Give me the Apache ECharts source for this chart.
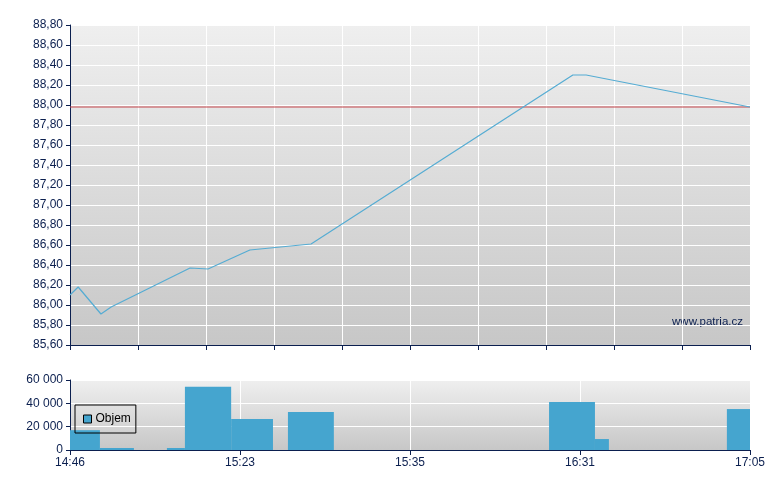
<!DOCTYPE html>
<html>
<head>
<meta charset="utf-8">
<script src="https://cdn.jsdelivr.net/npm/echarts@6/dist/echarts.min.js"></script>
<style>
  html, body { margin: 0; padding: 0; background: #fff; }
  #chart { width: 780px; height: 490px; }
</style>
</head>
<body>
<div id="chart"></div>
<script>
// osa x: pozice 0..20 (obchodni usek, ne linearni cas)
const timeLabels = ['14:46', '15:23', '15:35', '16:31', '17:05'];

// cena
const priceX = [0, 0.24, 0.91, 1.21, 3.53, 4.06, 5.29, 7.09, 14.79, 15.18, 20];
const priceY = [86.10, 86.18, 85.91, 85.98, 86.37, 86.36, 86.55, 86.61, 88.30, 88.30, 87.98];
const prevClose = 87.98;

// objem
const volStart = [0, 0.88, 2.85, 3.38, 4.74, 6.41, 14.09, 15.44, 19.32];
const volEnd = [0.88, 1.88, 3.38, 4.74, 5.97, 7.76, 15.44, 15.85, 20];
const volume = [17000, 1700, 1700, 54300, 26600, 32600, 41100, 9400, 35100];

const navy = '#0b1f4f';
const lineColor = '#55acd3';
const barColor = '#45a5cf';
const closeColor = '#c4454a';
const font = 'Arial, "Liberation Sans", sans-serif';

const bg = {
  type: 'linear', x: 0, y: 0, x2: 0, y2: 1,
  colorStops: [{ offset: 0, color: '#efefef' }, { offset: 1, color: '#c7c7c7' }],
};

const chart = echarts.init(document.getElementById('chart'));

const option = {
  animation: false,
  textStyle: { fontFamily: font },
  grid: [
    { left: 70, right: 30, top: 25, height: 320, show: true, backgroundColor: bg, borderWidth: 0 },
    { left: 70, right: 30, top: 380, height: 70, show: true, backgroundColor: bg, borderWidth: 0 },
  ],
  legend: {
    data: ['Objem'],
    left: 75,
    top: 405,
    orient: 'vertical',
    padding: [8, 5, 8, 8],
    borderColor: '#000',
    borderWidth: 1,
    icon: 'rect',
    itemWidth: 8,
    itemHeight: 8,
    itemGap: 0,
    itemStyle: { borderColor: '#000', borderWidth: 1 },
    textStyle: { color: '#000', fontSize: 12, fontFamily: font, padding: [0, 0, 0, -1] },
  },
  xAxis: [
    {
      type: 'value', gridIndex: 0, min: 0, max: 20, interval: 2,
      axisLine: { lineStyle: { color: navy, width: 1 } },
      axisTick: { show: true, length: 5, lineStyle: { color: navy } },
      axisLabel: { show: false },
      splitLine: { show: true, lineStyle: { color: '#ffffff', width: 1 } },
    },
    {
      type: 'value', gridIndex: 1, min: 0, max: 20, interval: 5,
      axisLine: { lineStyle: { color: navy, width: 1 } },
      axisTick: { show: true, length: 5, lineStyle: { color: navy } },
      axisLabel: {
        color: navy, fontSize: 12, margin: 7,
        formatter: (v) => timeLabels[Math.round(v / 5)],
      },
      splitLine: { show: true, lineStyle: { color: '#ffffff', width: 1 } },
    },
  ],
  yAxis: [
    {
      type: 'value', gridIndex: 0, min: 85.6, max: 88.8, interval: 0.2,
      axisLine: { show: true, lineStyle: { color: navy, width: 1 } },
      axisTick: { show: true, length: 4, lineStyle: { color: navy } },
      axisLabel: {
        color: navy, fontSize: 12, margin: 7,
        formatter: (v) => v.toFixed(2).replace('.', ','),
      },
      splitLine: { show: true, lineStyle: { color: '#ffffff', width: 1 } },
    },
    {
      type: 'value', gridIndex: 1, min: 0, max: 60000, interval: 20000,
      axisLine: { show: true, lineStyle: { color: navy, width: 1 } },
      axisTick: { show: true, length: 4, lineStyle: { color: navy } },
      axisLabel: {
        color: navy, fontSize: 12, margin: 7,
        formatter: (v) => String(v).replace(/\B(?=(\d{3})+(?!\d))/g, ' '),
      },
      splitLine: { show: true, lineStyle: { color: '#ffffff', width: 1 } },
    },
  ],
  series: [
    {
      name: 'Zavreni',
      type: 'line',
      xAxisIndex: 0,
      yAxisIndex: 0,
      showSymbol: false,
      silent: true,
      data: [[0, prevClose], [20, prevClose]],
      lineStyle: { color: closeColor, width: 1 },
      itemStyle: { color: closeColor },
      z: 4,
    },
    {
      name: 'Cena',
      type: 'line',
      xAxisIndex: 0,
      yAxisIndex: 0,
      showSymbol: false,
      data: priceX.map((x, i) => [x, priceY[i]]),
      lineStyle: { color: lineColor, width: 1.2 },
      itemStyle: { color: lineColor },
      z: 5,
    },
    {
      name: 'Objem',
      type: 'custom',
      xAxisIndex: 1,
      yAxisIndex: 1,
      itemStyle: { color: barColor },
      encode: { x: [0, 1], y: 2 },
      data: volStart.map((s, i) => [s, volEnd[i], volume[i]]),
      renderItem: (params, api) => {
        const p0 = api.coord([api.value(0), api.value(2)]);
        const p1 = api.coord([api.value(1), 0]);
        return {
          type: 'rect',
          shape: { x: p0[0], y: p0[1], width: p1[0] - p0[0], height: p1[1] - p0[1] },
          style: { fill: barColor },
        };
      },
    },
  ],
  graphic: [
    {
      type: 'text',
      right: 37,
      top: 316,
      style: { text: 'www.patria.cz', fill: navy, font: '11.5px ' + font },
    },
  ],
};

chart.setOption(option);
</script>
</body>
</html>
